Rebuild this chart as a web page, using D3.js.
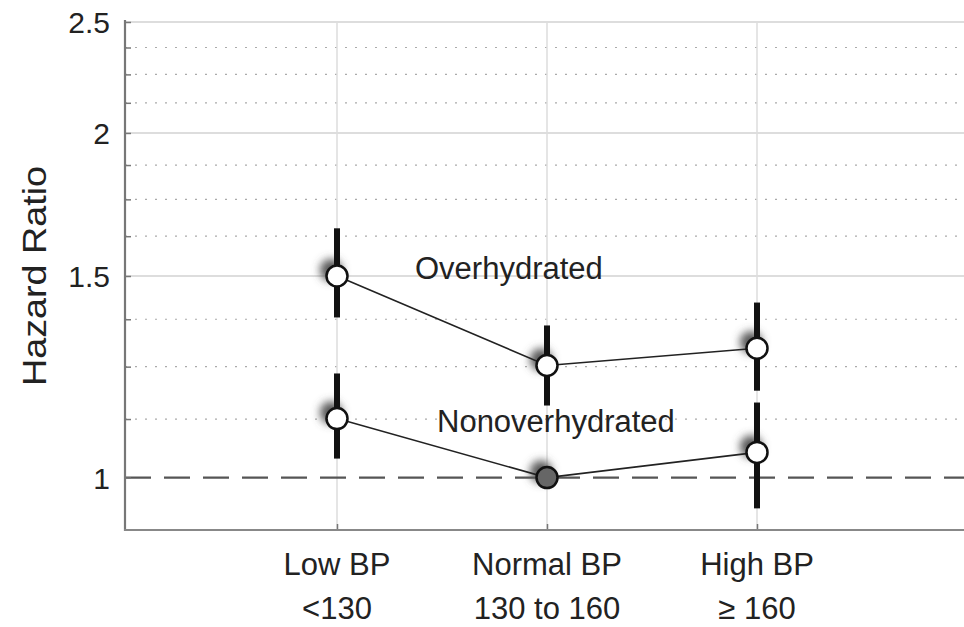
<!DOCTYPE html>
<meta charset="utf-8">
<script src="https://d3js.org/d3.v7.min.js"></script>
<style>
  body { margin: 0; background: #fff; }
  text { font-family: "Liberation Sans", Arial, sans-serif; fill: #222; }
</style>
<body>
<script>
// Categories and values.
const categories = ["Low BP", "Normal BP", "High BP"];
const subLabels = ["<130", "130 to 160", "\u2265 160"];

const overHR = [1.50, 1.253, 1.297];
const overLo = [1.38, 1.156, 1.191];
const overHi = [1.651, 1.358, 1.422];

const nonHR = [1.126, 1.00, 1.052];
const nonLo = [1.039, null, 0.940];
const nonHi = [1.233, null, 1.163];

const yTicks = [1, 1.5, 2, 2.5];
const yMinor = [1.125, 1.25, 1.375, 1.625, 1.75, 1.875, 2.125, 2.25, 2.375];

const width = 964, height = 627;
const plotLeft = 125, plotBottom = 530, plotTop = 22;

let svg = d3.select("body").append("svg")
    .attr("width", width)
    .attr("height", height);

let x = d3.scalePoint()
    .domain(categories)
    .range([127, 967])
    .padding(1);

let y = d3.scaleLog()
    .domain([0.9, 2.5])
    .range([plotBottom, plotTop]);

// blur for the circle shadows
svg.append("defs").append("filter")
    .attr("id", "blur")
    .attr("x", "-100%").attr("y", "-100%")
    .attr("width", "300%").attr("height", "300%")
  .append("feGaussianBlur")
    .attr("stdDeviation", 4.5);

// Gridlines
svg.append("g").selectAll("line")
    .data(yMinor)
    .join("line")
    .attr("x1", plotLeft).attr("x2", width)
    .attr("y1", d => y(d)).attr("y2", d => y(d))
    .attr("stroke", "#aaa")
    .attr("stroke-width", 1.2)
    .attr("stroke-dasharray", "2,8");

svg.append("g").selectAll("line")
    .data(yTicks.filter(d => d !== 1))
    .join("line")
    .attr("x1", plotLeft).attr("x2", width)
    .attr("y1", d => y(d)).attr("y2", d => y(d))
    .attr("stroke", "#d2d2d2")
    .attr("stroke-width", 1.5);

svg.append("g").selectAll("line")
    .data(categories)
    .join("line")
    .attr("x1", d => x(d)).attr("x2", d => x(d))
    .attr("y1", plotTop).attr("y2", plotBottom)
    .attr("stroke", "#dcdcdc")
    .attr("stroke-width", 1.5);

// Reference line at HR = 1
svg.append("line")
    .attr("x1", plotLeft).attr("x2", width)
    .attr("y1", y(1)).attr("y2", y(1))
    .attr("stroke", "#555")
    .attr("stroke-width", 2.2)
    .attr("stroke-dasharray", "26,13");

// Axes
let yAxis = svg.append("g")
    .attr("transform", `translate(${plotLeft},0)`)
    .call(d3.axisRight(y).tickValues(yTicks.concat(yMinor)).tickSize(6).tickFormat(""));
yAxis.select(".domain").remove();
yAxis.selectAll("line").attr("stroke", "#777").attr("stroke-width", 1.5);

let xAxis = svg.append("g")
    .attr("transform", `translate(0,${plotBottom})`)
    .call(d3.axisTop(x).tickSize(6).tickFormat(""));
xAxis.select(".domain").remove();
xAxis.selectAll("line").attr("stroke", "#777").attr("stroke-width", 1.5);

svg.append("line")
    .attr("x1", plotLeft).attr("x2", plotLeft)
    .attr("y1", plotTop - 2).attr("y2", plotBottom + 1)
    .attr("stroke", "#777").attr("stroke-width", 2.2);
svg.append("line")
    .attr("x1", plotLeft - 1).attr("x2", width)
    .attr("y1", plotBottom).attr("y2", plotBottom)
    .attr("stroke", "#888").attr("stroke-width", 2.2);

// Tick labels
svg.append("g").selectAll("text")
    .data(yTicks)
    .join("text")
    .attr("x", 110)
    .attr("y", d => y(d))
    .attr("dy", "0.38em")
    .attr("text-anchor", "end")
    .style("font-size", "30px")
    .text(d => d);

svg.append("g").selectAll("text")
    .data(categories)
    .join("text")
    .attr("x", d => x(d))
    .attr("y", 575)
    .attr("text-anchor", "middle")
    .style("font-size", "31px")
    .text(d => d);

svg.append("g").selectAll("text")
    .data(subLabels)
    .join("text")
    .attr("x", (d, i) => x(categories[i]))
    .attr("y", 619)
    .attr("text-anchor", "middle")
    .style("font-size", "31px")
    .text(d => d);

svg.append("text")
    .attr("transform", "translate(46,276) rotate(-90)")
    .attr("text-anchor", "middle")
    .attr("textLength", 220)
    .attr("lengthAdjust", "spacingAndGlyphs")
    .style("font-size", "33px")
    .text("Hazard Ratio");

// Series
function drawSeries(hr, lo, hi, fillFn) {
    let pts = hr.map((v, i) => ({ c: categories[i], v: v, lo: lo[i], hi: hi[i], i: i }));

    // shadows
    svg.append("g").selectAll("circle")
        .data(pts)
        .join("circle")
        .attr("cx", d => x(d.c) - 6)
        .attr("cy", d => y(d.v) - 6)
        .attr("r", 11)
        .attr("fill", "#555")
        .attr("filter", "url(#blur)");

    // CIs
    svg.append("g").selectAll("line")
        .data(pts.filter(d => d.lo != null))
        .join("line")
        .attr("x1", d => x(d.c)).attr("x2", d => x(d.c))
        .attr("y1", d => y(d.hi)).attr("y2", d => y(d.lo))
        .attr("stroke", "#111")
        .attr("stroke-width", 6);

    svg.append("path")
        .datum(pts)
        .attr("fill", "none")
        .attr("stroke", "#222")
        .attr("stroke-width", 1.6)
        .attr("d", d3.line().x(d => x(d.c)).y(d => y(d.v)));

    svg.append("g").selectAll("circle")
        .data(pts)
        .join("circle")
        .attr("cx", d => x(d.c))
        .attr("cy", d => y(d.v))
        .attr("r", 10.5)
        .attr("fill", fillFn)
        .attr("stroke", "#111")
        .attr("stroke-width", 2.5);
}

drawSeries(overHR, overLo, overHi, () => "#fff");
drawSeries(nonHR, nonLo, nonHi, d => d.lo == null ? "#666" : "#fff");

// Series labels
svg.append("text")
    .attr("x", x(categories[0]) + 78)
    .attr("y", y(overHR[0]) + 3)
    .style("font-size", "31px")
    .text("Overhydrated");

svg.append("text")
    .attr("x", x(categories[0]) + 100)
    .attr("y", y(nonHR[0]) + 13)
    .style("font-size", "31px")
    .text("Nonoverhydrated");
</script>
</body>
</html>
